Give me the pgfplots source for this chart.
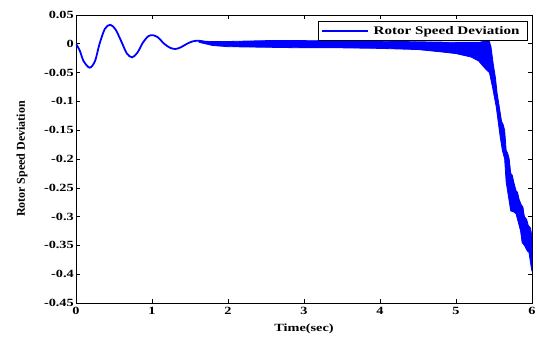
\documentclass[border=0pt]{standalone}
\usepackage{fontspec}
\setmainfont{Liberation Serif}[FakeStretch=1.3]
\newfontfamily\ylabfont{Liberation Serif}
\usepackage{pgfplots}
\pgfplotsset{compat=1.18}
\definecolor{mblue}{RGB}{0,0,255}
\begin{document}
\begin{tikzpicture}
\useasboundingbox (-76bp,-35bp) rectangle (461bp,303bp);
\begin{axis}[
  at={(0,0)}, anchor=south west,
  scale only axis, width=456bp, height=288bp,
  xmin=0, xmax=6, ymin=-0.45, ymax=0.05,
  axis line style={black, line width=0.9bp},
  tick style={black, line width=0.6bp},
  tick align=inside, major tick length=4bp,
  font=\fontsize{11bp}{13bp}\selectfont\bfseries,
  xtick={0,1,2,3,4,5,6},
  xticklabels={0,1,2,3,4,5,6},
  ytick={-0.45,-0.4,-0.35,-0.3,-0.25,-0.2,-0.15,-0.1,-0.05,0,0.05},
  yticklabels={-0.45,-0.4,-0.35,-0.3,-0.25,-0.2,-0.15,-0.1,-0.05,0,0.05},
  yticklabel style={inner sep=1bp, xshift=-1bp},
  xticklabel style={inner sep=1bp, yshift=-3bp},
  xlabel={Time(sec)},
  xlabel style={at={(axis description cs:0.5,-0.09)}, anchor=center},
  ylabel={\ylabfont\fontsize{12bp}{14bp}\selectfont\bfseries Rotor Speed Deviation},
  ylabel style={at={(axis description cs:-0.1184,0.5)}, anchor=center},
  legend style={at={(0.991,0.98)}, anchor=north east, draw=black, line width=0.8bp,
    font=\fontsize{11.6bp}{13bp}\selectfont\bfseries,
    nodes={inner xsep=5bp, inner ysep=3bp}},
  legend image code/.code={\path (-4bp,0bp) -- (42bp,0bp);\draw[#1, line width=0.8bp] (0bp,0bp) -- (42bp,0bp);},
]
% high-frequency oscillation band (envelope)
\addplot[mblue, fill=mblue, line width=0.8bp, forget plot] coordinates {
(1.62,0.0045) (1.80,0.0040) (2.00,0.0040) (2.50,0.0055) (3.00,0.0055) (3.50,0.0050) (4.00,0.0045)
(4.50,0.0035) (5.00,0.0025) (5.30,0.0025) (5.38,0.0045) (5.43,0.0080) (5.46,-0.0050)
(5.49,-0.035) (5.52,-0.060) (5.54,-0.085) (5.57,-0.110) (5.60,-0.135) (5.62,-0.140)
(5.64,-0.150) (5.66,-0.185) (5.68,-0.190) (5.70,-0.200) (5.72,-0.225) (5.74,-0.228)
(5.76,-0.240) (5.79,-0.255) (5.81,-0.258) (5.83,-0.270) (5.86,-0.280) (5.88,-0.283)
(5.90,-0.300) (5.93,-0.305) (5.95,-0.315) (5.98,-0.320) (6.00,-0.335)
(6.00,-0.395) (5.98,-0.380) (5.96,-0.362) (5.94,-0.360) (5.90,-0.350) (5.87,-0.345)
(5.85,-0.325) (5.82,-0.310) (5.79,-0.295) (5.76,-0.292) (5.72,-0.290) (5.69,-0.265)
(5.66,-0.240) (5.64,-0.200) (5.61,-0.185) (5.58,-0.160) (5.55,-0.130)
(5.53,-0.110) (5.48,-0.075) (5.44,-0.050) (5.40,-0.045) (5.35,-0.038) (5.30,-0.030)
(5.20,-0.023) (5.00,-0.017) (4.80,-0.014) (4.50,-0.010) (4.00,-0.008) (3.50,-0.007)
(3.00,-0.007) (2.50,-0.006) (2.00,-0.005) (1.80,-0.003) (1.62,0.0025)
} -- cycle;
% low-frequency transient
\addplot[mblue, line width=1.8bp, smooth] coordinates {
(0,0) (0.05,-0.012) (0.10,-0.030) (0.18,-0.0415) (0.25,-0.030) (0.31,0) (0.38,0.026)
(0.45,0.033) (0.52,0.025) (0.60,0.003) (0.67,-0.017) (0.74,-0.0235) (0.81,-0.015)
(0.88,0.002) (0.95,0.013) (1.01,0.015) (1.08,0.011) (1.16,0) (1.24,-0.007) (1.31,-0.009)
(1.38,-0.006) (1.46,0) (1.53,0.004) (1.60,0.0054) (1.68,0.004) (1.75,0.001) (1.83,-0.0005)
(1.90,0) (2.00,0)
};
\addlegendentry{Rotor Speed Deviation}
\end{axis}
\end{tikzpicture}
\end{document}
